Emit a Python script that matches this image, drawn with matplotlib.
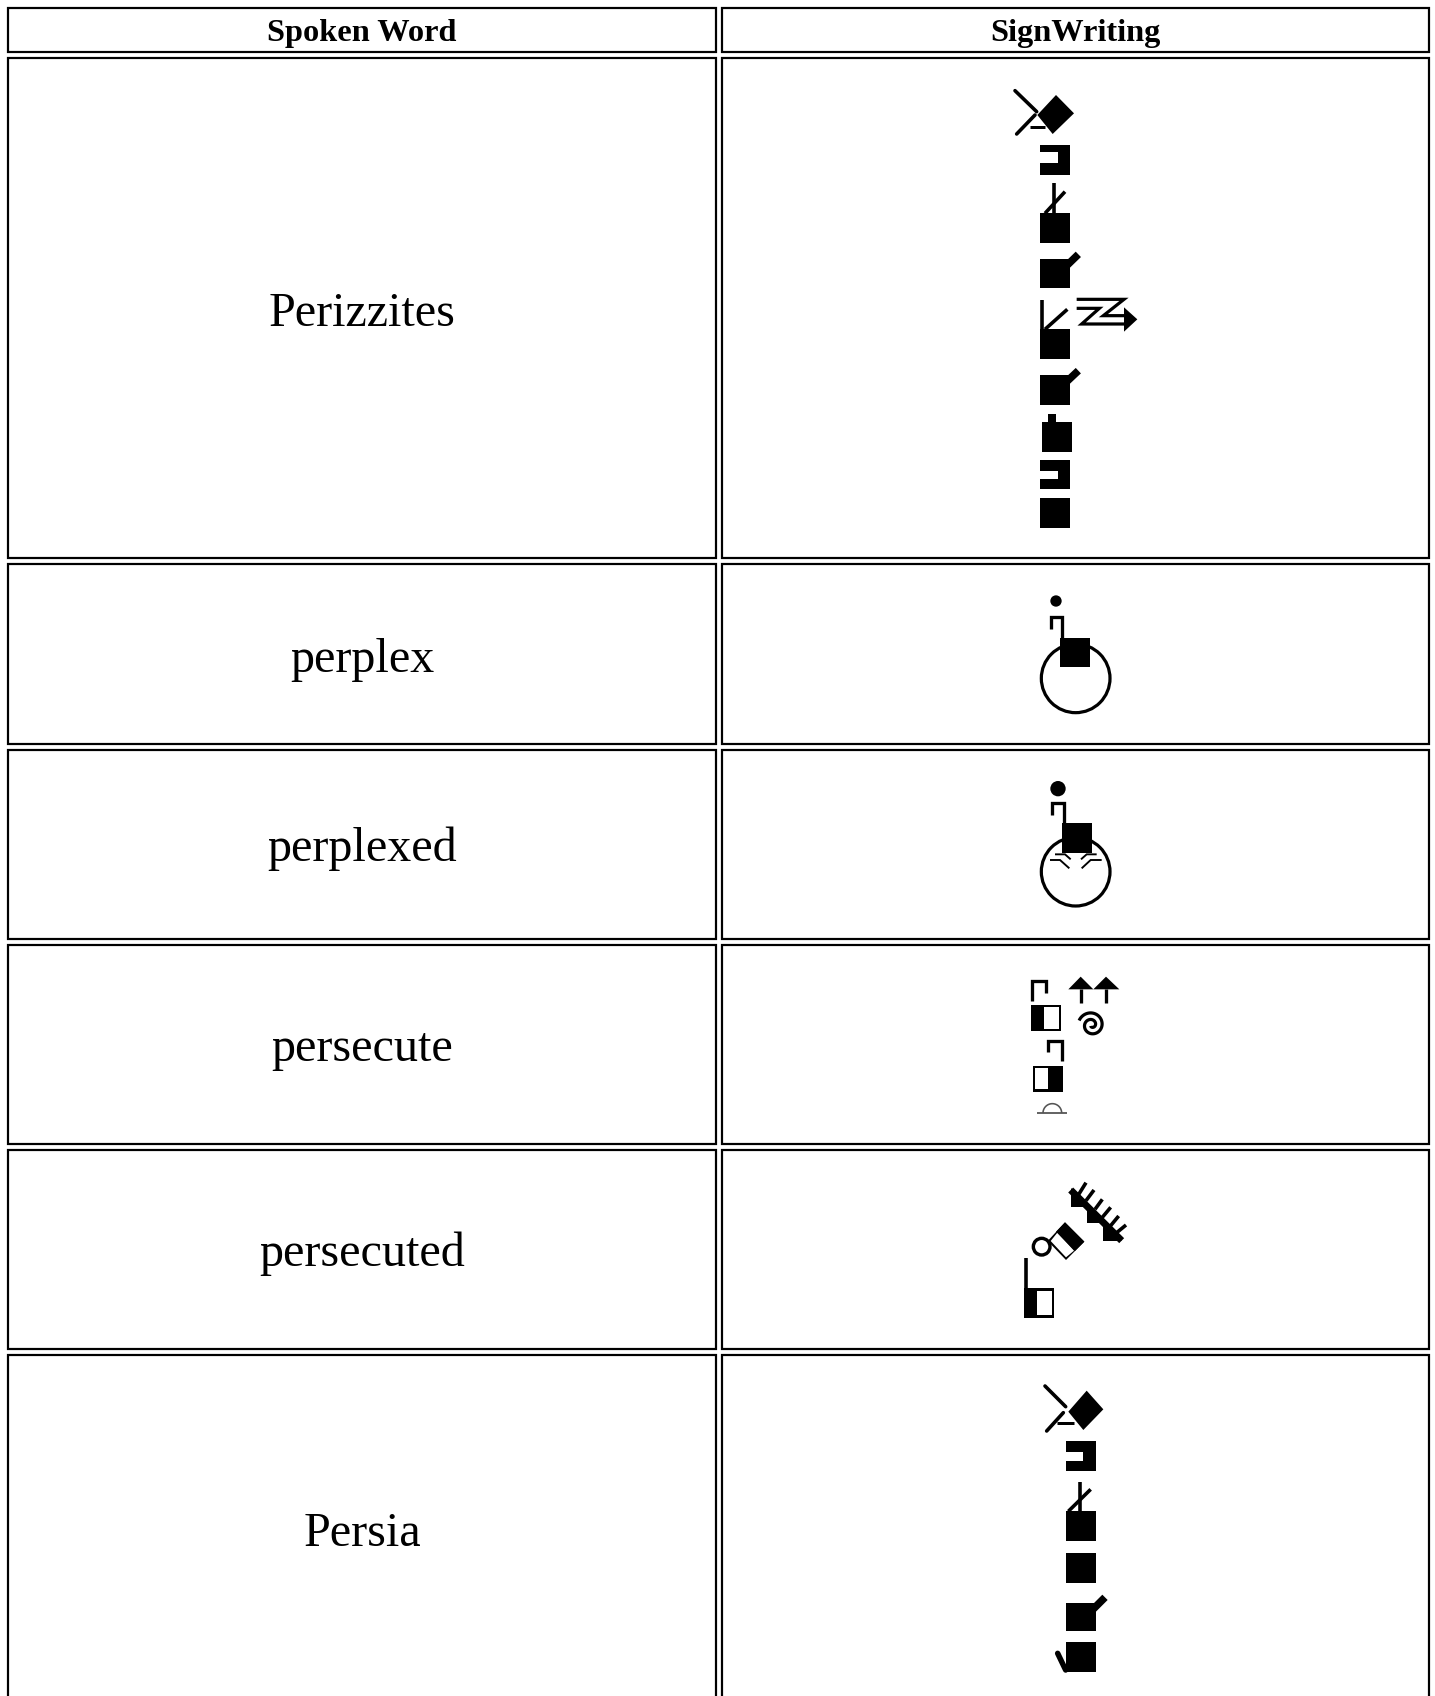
import numpy as np
import matplotlib
matplotlib.use("Agg")
import matplotlib.pyplot as plt
from matplotlib.patches import Rectangle, Polygon, Circle

headers = ["Spoken Word", "SignWriting"]
words = ["Perizzites", "perplex", "perplexed", "persecute", "persecuted", "Persia"]

W, H = 1435, 1696
col_left = [7, 721]
col_right = [717, 1430]
row_top = [7, 57, 563, 749, 944, 1149, 1354]
row_bottom = [53, 559, 745, 940, 1145, 1350, 1760]
baselines = [41, 326, 672, 861, 1061, 1266, 1546]

fig = plt.figure(figsize=(W / 100, H / 100), dpi=100, facecolor="white")
ax = fig.add_axes([0, 0, 1, 1])
ax.set_xlim(0, W)
ax.set_ylim(H, 0)
ax.axis("off")

PX = 0.72
for t, b in zip(row_top, row_bottom):
    for l, r in zip(col_left, col_right):
        ax.add_patch(Rectangle((l + 1, t + 1), r - l - 2, b - t - 2, fc="white", ec="black", lw=2.2 * PX, zorder=1))

cx = (col_left[0] + col_right[0]) / 2
cx2 = (col_left[1] + col_right[1]) / 2
serif = ["Liberation Serif", "DejaVu Serif"]
for x, s in zip([cx, cx2], headers):
    ax.text(x, baselines[0], s, ha="center", va="baseline", family=serif, weight="bold", fontsize=23.3, zorder=5)
for s, y in zip(words, baselines[1:]):
    ax.text(cx, y, s, ha="center", va="baseline", family=serif, fontsize=34.7, zorder=5)


class G:
    """Glyph drawing in the coordinates of a 3x crop with the given origin."""
    def __init__(self, ox, oy):
        self.ox, self.oy = ox, oy
    def p(self, pts):
        return [(self.ox + x / 3, self.oy + y / 3) for x, y in pts]
    def line(self, pts, w=3.3, c="black", cap="butt"):
        q = np.array(self.p(pts))
        ax.plot(q[:, 0], q[:, 1], color=c, lw=w * PX, solid_capstyle=cap, solid_joinstyle="miter", zorder=4)
    def poly(self, pts, c="black"):
        ax.add_patch(Polygon(self.p(pts), closed=True, fc=c, ec="none", zorder=4))
    def box(self, x0, y0, x1, y1, c="black"):
        self.poly([(x0, y0), (x1, y0), (x1, y1), (x0, y1)], c)
    def disc(self, x, y, r):
        cxy = self.p([(x, y)])[0]
        ax.add_patch(Circle(cxy, r / 3, fc="black", ec="none", zorder=4))
    def ring(self, x, y, r, w=3.2, fc="none"):
        cxy = self.p([(x, y)])[0]
        ax.add_patch(Circle(cxy, r / 3, fc=fc, ec="black", lw=w * PX, zorder=3.5))
    def notch(self, x0, y0, x1, y1, nx, ny0, ny1):
        self.box(x0, y0, x1, y1)
        self.box(x0, ny0, nx, ny1, "white")
    def half(self, x0, y0, x1, y1, split, side):
        self.box(x0, y0, x1, y1)
        t = 7
        if side == "left":
            self.box(split, y0 + t, x1 - t, y1 - t, "white")
        else:
            self.box(x0 + t, y0 + t, split, y1 - t, "white")


# Perizzites
g = G(980, 70)
g.poly([(228, 75), (282, 130), (218, 192), (172, 135)])
g.line([(105, 62), (170, 125)], 3.6, cap="round")
g.line([(110, 192), (165, 135)], 3.6, cap="round")
g.line([(150, 170), (195, 170)], 3)
g.notch(180, 225, 270, 315, 235, 247, 280)
g.box(180, 430, 270, 520)
g.line([(222, 340), (222, 430)], 3.6)
g.line([(255, 365), (195, 430)], 3.6)
g.box(180, 568, 270, 655)
g.line([(260, 587), (295, 553)], 7.5)
g.box(180, 778, 270, 868)
g.line([(185, 690), (185, 778)], 3.6)
g.line([(195, 778), (262, 718)], 3.6)
g.line([(290, 688), (432, 688), (370, 737), (445, 737)], 3.2)
g.line([(290, 715), (358, 715), (305, 762), (445, 762)], 3.2)
g.poly([(432, 712), (472, 748), (432, 785)])
g.box(180, 915, 270, 1005)
g.line([(260, 935), (295, 902)], 7.5)
g.box(186, 1055, 276, 1145)
g.box(205, 1032, 228, 1056)
g.notch(180, 1170, 270, 1258, 235, 1202, 1228)
g.box(180, 1285, 270, 1373)

# perplex / perplexed
g = G(980, 570)
g.disc(228, 93, 17)
g.line([(212, 178), (212, 142), (246, 142), (246, 205)])
g.ring(287, 325, 103)
g.box(240, 203, 330, 292)

g.disc(234, 656, 23)
g.line([(215, 735), (215, 698), (252, 698), (252, 762)])
g.ring(287, 905, 103)
g.box(247, 760, 337, 850)
g.line([(225, 853), (255, 853), (272, 868)], 1.9)
g.line([(210, 870), (240, 870), (268, 895)], 1.9)
g.line([(350, 853), (320, 853), (303, 868)], 1.9)
g.line([(365, 870), (332, 870), (305, 895)], 1.9)

# persecute / persecuted
g = G(980, 960)
g.line([(157, 122), (157, 62), (197, 62), (197, 98)])
g.half(153, 135, 243, 213, 192, "left")
g.poly([(265, 88), (302, 50), (340, 88)])
g.poly([(340, 88), (378, 50), (418, 88)])
g.line([(302, 88), (302, 128)], 3.3)
g.line([(378, 88), (378, 128)], 3.3)
theta = np.linspace(0.2, 3.7 * np.pi, 120)
radius = np.linspace(4, 40, 120)
g.line(list(zip(335 - radius * np.cos(theta + 0.6), 195 + radius * np.sin(theta + 0.6))), 3.2)
g.line([(203, 275), (203, 243), (245, 243), (245, 303)])
g.half(158, 318, 248, 395, 205, "right")
g.line([(172, 459), (262, 459)], 1.8, c="#555555")
a = np.linspace(0, np.pi, 30)
g.line(list(zip(217 + 28 * np.cos(a), 459 - 28 * np.sin(a))), 1.6, c="#555555")

g.line([(272, 690), (425, 842)], 7)
g.poly([(272, 683), (272, 740), (328, 740)])
g.poly([(322, 735), (322, 790), (378, 790)])
g.poly([(370, 785), (370, 842), (425, 842)])
for seg in [[(295, 705), (318, 668)], [(318, 722), (342, 690)], [(345, 748), (367, 718)],
            [(367, 772), (392, 742)], [(392, 797), (416, 768)], [(410, 818), (438, 795)]]:
    g.line(seg, 3.6)
g.poly([(255, 787), (313, 845), (258, 900), (203, 843)])
g.poly([(232, 818), (282, 872), (258, 892), (212, 843)], "white")
g.poly([(255, 787), (313, 845), (285, 873), (228, 815)])
g.ring(185, 860, 25, 3.4, fc="white")
g.line([(137, 895), (137, 985)], 3.6)
g.half(133, 985, 222, 1073, 172, "left")

# Persia
g = G(1000, 1370)
g.poly([(260, 62), (310, 118), (250, 180), (205, 125)])
g.line([(135, 48), (197, 110)], 3.6, cap="round")
g.line([(140, 183), (190, 128)], 3.6, cap="round")
g.line([(170, 158), (222, 158)], 3)
g.notch(197, 213, 288, 303, 250, 245, 272)
g.box(197, 424, 288, 514)
g.line([(240, 335), (240, 424)], 3.6)
g.line([(272, 358), (205, 424)], 3.6)
g.box(197, 550, 288, 640)
g.box(197, 700, 288, 783)
g.line([(280, 717), (315, 682)], 7.5)
g.box(197, 815, 288, 905)
g.line([(173, 850), (197, 900)], 5.5, cap="round")

fig.savefig("out.png", dpi=100, facecolor="white")
